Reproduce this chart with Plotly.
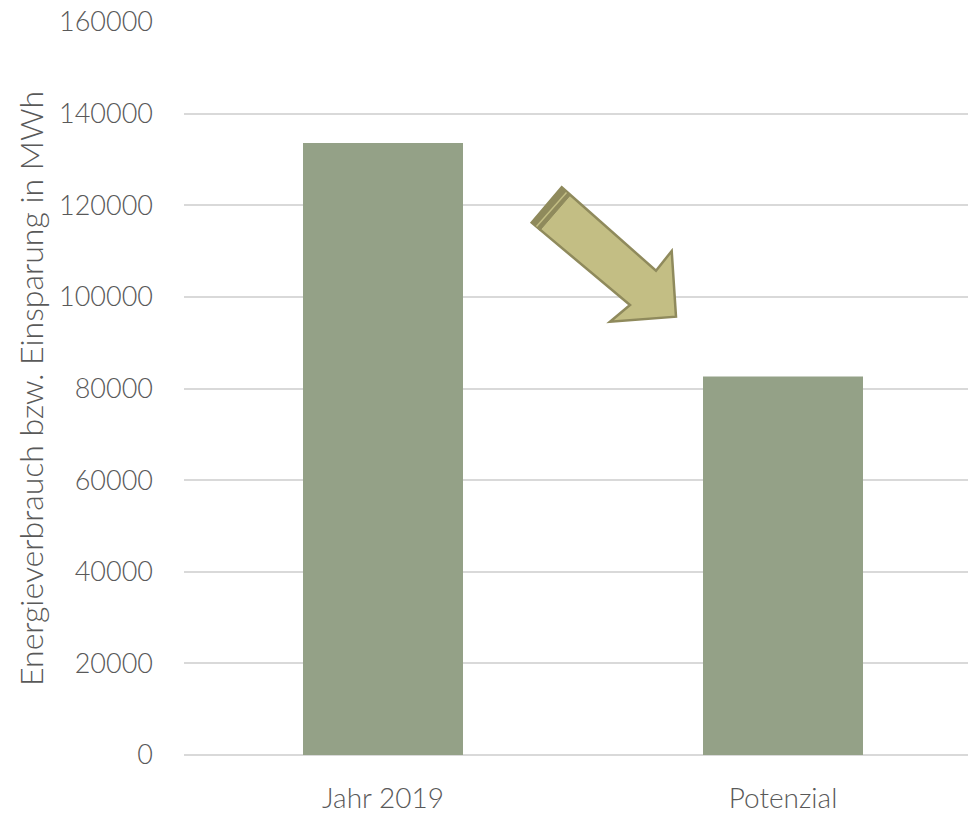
import plotly.graph_objects as go

categories = ["Jahr 2019", "Potenzial"]
values = [133600, 82600]
y_ticks = [0, 20000, 40000, 60000, 80000, 100000, 120000, 140000, 160000]

BAR = "#94A187"
ARROW_FILL = "#C3BE84"
ARROW_LINE = "#8F8A5C"
FONT = "Lato"

L, R, T, B = 184, 3, 22, 58
W, H = 971, 813
PW, PH = W - L - R, H - T - B


def px(x, y):
    return ((x - L) / PW, (H - B - y) / PH)


def path(pts):
    s = ""
    for i, (x, y) in enumerate(pts):
        xp, yp = px(x, y)
        s += ("M" if i == 0 else "L") + f"{xp:.5f},{yp:.5f} "
    return s + "Z"


fig = go.Figure()
fig.add_trace(go.Bar(
    x=[0, 1], y=values, width=0.4, marker=dict(color=BAR, line=dict(width=0)),
    hoverinfo="skip",
))

arrow = [(561.7, 187.3), (656, 270.7), (671.7, 251), (676, 316.7),
         (610, 321.7), (630, 305), (531.7, 222.7)]
band = [(561.7, 187.3), (570, 195.5), (540, 230.2), (531.7, 222.7)]

fig.add_shape(type="path", xref="paper", yref="paper", path=path(arrow),
              fillcolor=ARROW_FILL, line=dict(color=ARROW_LINE, width=2.5), layer="above")
fig.add_shape(type="path", xref="paper", yref="paper", path=path(band),
              fillcolor=ARROW_LINE, line=dict(color=ARROW_LINE, width=1), layer="above")
x1, y1 = px(566.5, 192.5)
x2, y2 = px(536.5, 226.5)
fig.add_shape(type="line", xref="paper", yref="paper", x0=x1, y0=y1, x1=x2, y1=y2,
              line=dict(color=ARROW_FILL, width=1.5), layer="above")

fig.update_layout(
    width=W, height=H, margin=dict(l=L, r=R, t=T, b=B, pad=0, autoexpand=False),
    paper_bgcolor="white", plot_bgcolor="white", showlegend=False,
    font=dict(family=FONT, color="#595959", size=27, weight=300),
    xaxis=dict(
        range=[-0.4975, 1.4625], tickmode="array", tickvals=[0, 1], ticktext=categories,
        showgrid=False, zeroline=False, showline=False, ticks="", automargin=False,
        tickfont=dict(family=FONT, size=28, color="#595959", weight=300),
        ticklabelstandoff=24,
    ),
    yaxis=dict(
        range=[0, 160000], tickmode="array", tickvals=y_ticks,
        ticktext=[str(v) for v in y_ticks], automargin=False,
        showgrid=True, gridcolor="#D9D9D9", gridwidth=1.5,
        zeroline=True, zerolinecolor="#D9D9D9", zerolinewidth=1.5,
        showline=False, ticks="",
        tickfont=dict(family=FONT, size=27, color="#595959", weight=300),
        ticklabelstandoff=30,
        title=dict(text="Energieverbrauch bzw. Einsparung in MWh",
                   font=dict(family=FONT, size=32, color="#595959", weight=300),
                   standoff=5),
    ),
)

fig.write_html("out.html")
